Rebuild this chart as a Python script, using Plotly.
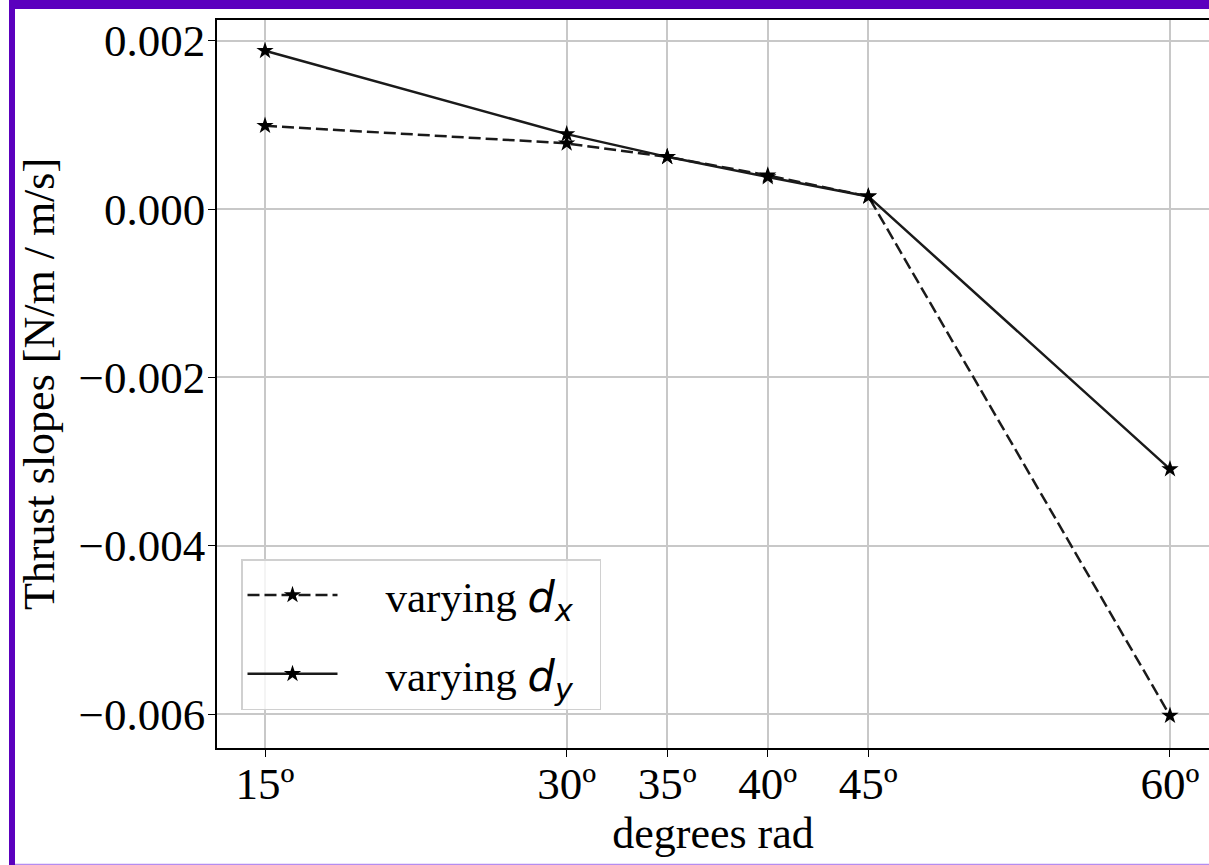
import plotly.graph_objects as go

# ---- data ----
angles = [15, 30, 35, 40, 45, 60]
tick_labels = ["15º", "30º", "35º", "40º", "45º", "60º"]
slopes_dx = [0.00099, 0.00078, 0.00062, 0.00040, 0.00015, -0.00602]
slopes_dy = [0.00188, 0.00089, 0.00062, 0.00038, 0.00015, -0.00309]
y_ticks = [0.002, 0.000, -0.002, -0.004, -0.006]
y_tick_labels = ["0.002", "0.000", "−0.002", "−0.004", "−0.006"]

W, H = 1209, 865
L, R, T, B = 217, 0, 20, 117
pw, ph = W - L - R, H - T - B

def px(x):
    return (x - L) / pw

def py(y):
    return (H - B - y) / ph

SERIF = "Liberation Serif, Times New Roman, serif"
FS_TICK = 45
FS_TITLE = 44
FS_LEG = 43
SP = "\u00a0\u00a0\u00a0\u00a0"
TAIL = "\u00a0\u00a0"

fig = go.Figure()
fig.add_trace(go.Scatter(
    x=angles, y=slopes_dx, mode="lines+markers", legendgroup="a",
    name=SP + 'varying <span style="font-family:DejaVu Sans"><i>d</i><sub><i>x</i></sub></span>' + TAIL,
    line=dict(color="#1a1a1a", width=2.5, dash="12px,5px"),
    marker=dict(symbol="star", size=13, color="black"),
))
fig.add_trace(go.Scatter(
    x=angles, y=slopes_dy, mode="lines+markers", legendgroup="b",
    name=SP + 'varying <span style="font-family:DejaVu Sans"><i>d</i><sub><i>y</i></sub></span>' + TAIL,
    line=dict(color="#1a1a1a", width=2.5),
    marker=dict(symbol="star", size=13, color="black"),
))

# purple frame pieces
frame = "#5b00be"
shapes = [
    dict(type="rect", xref="paper", yref="paper", x0=px(9), x1=px(W + 5), y0=py(9), y1=py(0),
         fillcolor=frame, line=dict(width=0), layer="above"),
    dict(type="rect", xref="paper", yref="paper", x0=px(9), x1=px(15), y0=py(H), y1=py(0),
         fillcolor=frame, line=dict(width=0), layer="above"),
    dict(type="line", xref="paper", yref="paper", x0=px(15), x1=px(W + 5), y0=py(864.5), y1=py(864.5),
         line=dict(color="#b48cf0", width=1.5), layer="above"),
]

fig.update_layout(
    width=W, height=H,
    margin=dict(l=L, r=R, t=T, b=B, autoexpand=False),
    paper_bgcolor="white", plot_bgcolor="white",
    font=dict(family=SERIF, size=FS_TICK, color="black"),
    showlegend=True,
    legend=dict(
        x=px(241), y=py(559), xanchor="left", yanchor="top",
        bgcolor="rgba(255,255,255,0.8)", bordercolor="#d0d0d0", borderwidth=1.5,
        font=dict(family=SERIF, size=FS_LEG, color="black"),
        itemwidth=90, tracegroupgap=20,
    ),
    shapes=shapes,
    xaxis=dict(
        range=[15 - (265 - L) / 20.1, 60 + (W - 1170) / 20.1],
        tickmode="array", tickvals=angles, ticktext=tick_labels,
        showgrid=True, gridcolor="#c8c8c8", gridwidth=1.5,
        showline=True, linecolor="black", linewidth=1.5, mirror=True,
        ticks="outside", ticklen=7, tickwidth=1.2, tickcolor="black",
        ticklabelstandoff=-12,
        zeroline=False,
        title=dict(text="degrees rad", font=dict(family=SERIF, size=FS_TITLE), standoff=3),
    ),
    yaxis=dict(
        range=[-0.006404, 0.002246],
        tickmode="array", tickvals=y_ticks, ticktext=y_tick_labels,
        showgrid=True, gridcolor="#c8c8c8", gridwidth=1.5,
        showline=True, linecolor="black", linewidth=1.5, mirror=False,
        ticks="outside", ticklen=7, tickwidth=1.2, tickcolor="black",
        ticklabelstandoff=-6,
        zeroline=False,
        title=dict(text="Thrust slopes [N/m / m/s]", font=dict(family=SERIF, size=FS_TITLE), standoff=10),
    ),
)

fig.write_html("out.html", config={"displayModeBar": False},
               post_script="document.body.style.margin='0';")
